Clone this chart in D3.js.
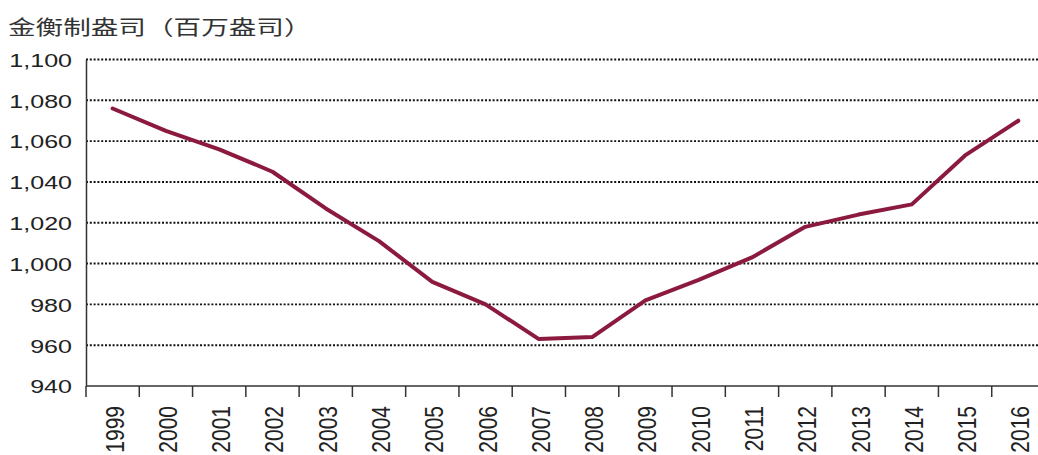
<!DOCTYPE html>
<html>
<head>
<meta charset="utf-8">
<script src="https://d3js.org/d3.v7.min.js"></script>
<style>
body { margin: 0; background: #fff; }
.axis text { font: 19px "Liberation Sans", Arial, sans-serif; fill: #222; }
.axis .year { font-size: 21px; }
.title { font: 20px "Noto Sans CJK SC", sans-serif; fill: #333; }
.grid line { stroke: #111; stroke-width: 1.9; stroke-dasharray: 2,1.8; }
</style>
</head>
<body>
<script>

// data
var years = ["1999","2000","2001","2002","2003","2004","2005","2006","2007",
             "2008","2009","2010","2011","2012","2013","2014","2015","2016"];
var ounces = [1076, 1065, 1056, 1045, 1027, 1011, 991, 980, 963,
              964, 982, 992, 1003, 1018, 1024, 1029, 1053, 1070];
var yTicks = [940, 960, 980, 1000, 1020, 1040, 1060, 1080, 1100];
var titleText = "金衡制盎司（百万盎司）";

var W = 1038, H = 455;
var margin = {top: 59.5, right: -7, bottom: 69, left: 86};
var width = W - margin.left - margin.right,
    height = H - margin.top - margin.bottom;

// the reference text looks stretched sideways
var stretch = 1.32;

var svg = d3.select("body").append("svg")
    .attr("width", W)
    .attr("height", H);

svg.append("text")
    .attr("class", "title")
    .attr("transform", "translate(8,35) scale(1.38,1)")
    .text(titleText);

var g = svg.append("g")
    .attr("transform", "translate(" + margin.left + "," + margin.top + ")");

var x = d3.scaleBand()
    .domain(years)
    .range([0, width])
    .padding(0);

var y = d3.scaleLinear()
    .domain([940, 1100])
    .range([height, 0]);

// dotted gridlines
g.append("g")
    .attr("class", "grid")
  .selectAll("line")
    .data(yTicks.filter(function(d) { return d > 940 }))
  .enter().append("line")
    .attr("x1", 0)
    .attr("x2", width)
    .attr("y1", function(d) { return y(d) })
    .attr("y2", function(d) { return y(d) });

// y axis
var yAxis = g.append("g")
    .attr("class", "axis")
    .call(d3.axisLeft(y).tickValues(yTicks).tickSize(0)
        .tickFormat(d3.format(",")));
yAxis.select(".domain").attr("stroke", "#333").attr("stroke-width", 1.5);
yAxis.selectAll("text")
    .attr("x", -14 / stretch)
    .attr("dy", "0.36em")
    .attr("transform", "scale(" + stretch + ",1)");

// x axis: ticks sit on category boundaries
var xAxis = g.append("g")
    .attr("class", "axis")
    .attr("transform", "translate(0," + height + ")");
xAxis.append("line")
    .attr("x1", 0).attr("x2", width)
    .attr("stroke", "#333").attr("stroke-width", 1.5);
xAxis.selectAll(".tick-mark")
    .data(years)
  .enter().append("line")
    .attr("class", "tick-mark")
    .attr("x1", function(d) { return x(d) })
    .attr("x2", function(d) { return x(d) })
    .attr("y1", 0).attr("y2", 11)
    .attr("stroke", "#333").attr("stroke-width", 1.5);
xAxis.selectAll(".year")
    .data(years)
  .enter().append("text")
    .attr("class", "year")
    .attr("transform", function(d) {
        return "translate(" + (x(d) + x.bandwidth() / 2 + 11) + ",20) rotate(-90) scale(1,1.2)";
    })
    .style("text-anchor", "end")
    .text(function(d) { return d });

// the line
var line = d3.line()
    .x(function(d, i) { return x(years[i]) + x.bandwidth() / 2 })
    .y(function(d) { return y(d) });

g.append("path")
    .datum(ounces)
    .attr("d", line)
    .attr("fill", "none")
    .attr("stroke", "#8c1a3e")
    .attr("stroke-width", 4)
    .attr("stroke-linejoin", "round")
    .attr("stroke-linecap", "round");

</script>
</body>
</html>
